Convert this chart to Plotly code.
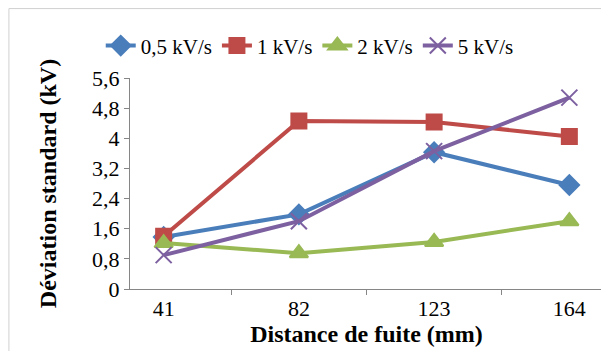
import plotly.graph_objects as go

distances = ["41", "82", "123", "164"]
s05 = [1.38, 1.98, 3.63, 2.76]
s1 = [1.40, 4.46, 4.43, 4.05]
s2 = [1.22, 0.95, 1.25, 1.80]
s5 = [0.90, 1.80, 3.66, 5.08]

series = [
    ("0,5 kV/s", s05, "#4a7ebb", "diamond", 15),
    ("1 kV/s", s1, "#be4b48", "square", 15),
    ("2 kV/s", s2, "#98b954", "triangle-up", 16),
    ("5 kV/s", s5, "#7d60a0", "x-thin-open", 16),
]

fig = go.Figure()
for name, vals, col, sym, sz in series:
    fig.add_trace(go.Scatter(
        x=distances, y=vals, name=name, mode="lines+markers",
        line=dict(color=col, width=4),
        marker=dict(symbol=sym, size=sz, color=col,
                    line=dict(color=col, width=2)),
    ))

font = "Liberation Serif, Times New Roman, serif"
fig.update_layout(
    width=601, height=343,
    margin=dict(l=122, r=6, t=70, b=62),
    paper_bgcolor="white", plot_bgcolor="white",
    separators=", ",
    font=dict(family=font, size=22, color="black"),
    showlegend=True,
    legend=dict(orientation="h", x=0.38, xanchor="center", y=1.152, yanchor="middle",
                font=dict(size=21), itemwidth=30, tracegroupgap=0,
                bgcolor="rgba(0,0,0,0)"),
    xaxis=dict(type="category", showline=True, linecolor="#868686", linewidth=1,
               ticks="outside", tickson="boundaries", ticklen=5, tickcolor="#868686",
               showgrid=False, zeroline=False, tickfont=dict(size=22),
               title=dict(text="<b>Distance de fuite (mm)</b>", font=dict(size=24), standoff=0)),
    yaxis=dict(range=[0, 5.6], dtick=0.8, showline=True, linecolor="#868686", linewidth=1,
               ticks="outside", ticklen=5, tickcolor="#868686",
               showgrid=False, zeroline=False, tickfont=dict(size=22),
               title=dict(text="<b>Déviation standard (kV)</b>", font=dict(size=24), standoff=28)),
    shapes=[dict(type="rect", xref="paper", yref="paper",
                 x0=-0.256, x1=1.0085, y0=-0.34, y1=1.329,
                 line=dict(color="#d0d0d0", width=1), fillcolor="rgba(0,0,0,0)", layer="below")],
)

fig.write_html("out.html")
